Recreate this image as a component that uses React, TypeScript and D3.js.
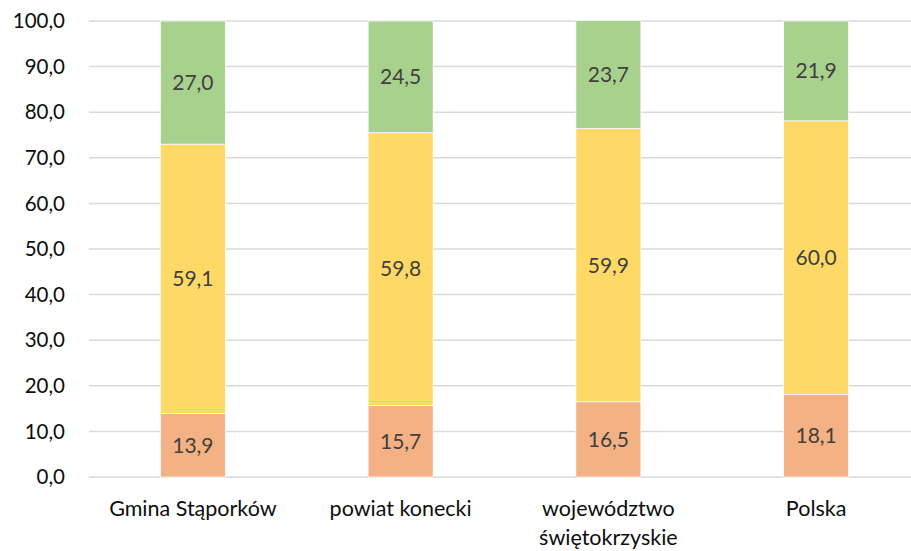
import React from "react";
import * as d3 from "d3";

const categories = ["Gmina Stąporków", "powiat konecki", "województwo|świętokrzyskie", "Polska"];
const seriesBottom = [13.9, 15.7, 16.5, 18.1];
const seriesMiddle = [59.1, 59.8, 59.9, 60.0];
const seriesTop = [27.0, 24.5, 23.7, 21.9];
const yTicks = [0, 10, 20, 30, 40, 50, 60, 70, 80, 90, 100];
const colors = ["#F4B183", "#FFD966", "#A9D18E"];

const W = 911, H = 551;
const FONT = "Lato, 'Open Sans', sans-serif";

export default function App() {
  const x = d3.scaleBand<string>().domain(categories).range([89, 920]).padding(0);
  const y = d3.scaleLinear().domain([0, 100]).range([477, 21]);
  const barW = x.bandwidth() * 0.313;
  const fmt = (v: number) => v.toFixed(1).replace(".", ",");
  const series = [seriesBottom, seriesMiddle, seriesTop];

  return (
    <svg width={W} height={H} style={{ position: "absolute", left: 0, top: 0, background: "#fff" }}>
      {yTicks.map((t) => (
        <g key={t}>
          <line x1={89} x2={W} y1={y(t)} y2={y(t)} stroke="#D9D9D9" strokeWidth={1.5} />
          <text x={65} y={y(t)} dy="0.35em" textAnchor="end" fontFamily={FONT} fontSize={20.5} fill="#0d0d0d">
            {fmt(t)}
          </text>
        </g>
      ))}
      {categories.map((c, i) => {
        const cx = x(c)! + x.bandwidth() / 2;
        let acc = 0;
        return (
          <g key={c}>
            {series.map((s, k) => {
              const y0 = acc;
              const y1 = acc + s[i];
              acc = y1;
              return (
                <g key={k}>
                  <rect
                    x={cx - barW / 2}
                    width={barW}
                    y={y(y1)}
                    height={y(y0) - y(y1)}
                    fill={colors[k]}
                    stroke="#fff"
                    strokeWidth={0.75}
                  />
                  <text
                    x={cx}
                    y={(y(y0) + y(y1)) / 2}
                    dy="0.35em"
                    textAnchor="middle"
                    fontFamily={FONT}
                    fontSize={21}
                    fill="#404040"
                  >
                    {fmt(s[i])}
                  </text>
                </g>
              );
            })}
            {c.split("|").map((line, j) => (
              <text
                key={j}
                x={cx}
                y={508 + j * 29}
                dy="0.35em"
                textAnchor="middle"
                fontFamily={FONT}
                fontSize={21.5}
                fill="#0d0d0d"
              >
                {line}
              </text>
            ))}
          </g>
        );
      })}
    </svg>
  );
}
